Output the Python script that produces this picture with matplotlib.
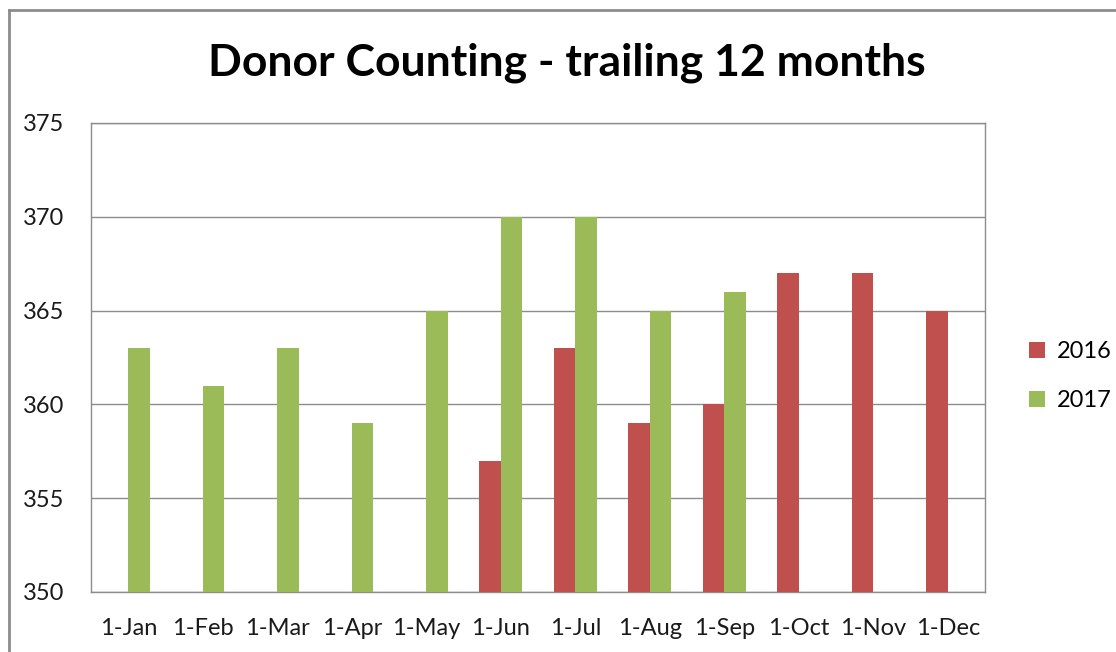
import numpy as np
import matplotlib.pyplot as plt
from matplotlib.lines import Line2D

# data
months = ["1-Jan", "1-Feb", "1-Mar", "1-Apr", "1-May", "1-Jun",
          "1-Jul", "1-Aug", "1-Sep", "1-Oct", "1-Nov", "1-Dec"]
donors_2016 = [np.nan, np.nan, np.nan, np.nan, np.nan, 357,
               363, 359, 360, 367, 367, 365]
donors_2017 = [363, 361, 363, 359, 365, 370,
               370, 365, 366, np.nan, np.nan, np.nan]

plt.rcParams["font.family"] = ["Lato", "DejaVu Sans"]

W, H = 1116, 652
fig = plt.figure(figsize=(W / 100, H / 100), dpi=100)

# chart area border (cropped on right and bottom)
fig.add_artist(Line2D([9 / W, 1], [1 - 10 / H, 1 - 10 / H], color="#8c8c8c", lw=2))
fig.add_artist(Line2D([9 / W, 9 / W], [0, 1 - 10 / H], color="#8c8c8c", lw=2))

ax = fig.add_axes([91 / W, (H - 592) / H, 894 / W, 469 / H])

x = np.arange(len(months))
bw = 1 / 3.5
base = 350
ax.bar(x - bw / 2, np.array(donors_2016) - base, bw, bottom=base,
       color="#C0504D", label="2016", zorder=3)
ax.bar(x + bw / 2, np.array(donors_2017) - base, bw, bottom=base,
       color="#9BBB59", label="2017", zorder=3)

ax.set_xlim(-0.5, 11.5)
ax.set_ylim(350, 375)
ax.set_yticks(np.arange(350, 376, 5))
ax.set_xticks(x)
ax.set_xticklabels(months)
ax.tick_params(axis="both", length=0, labelsize=17, colors="#1a1a1a")
ax.tick_params(axis="y", pad=19)
ax.tick_params(axis="x", pad=19)
ax.grid(axis="y", color="#8c8c8c", lw=1, zorder=0)
for s in ax.spines.values():
    s.set_color("#8c8c8c")
    s.set_linewidth(1)

fig.text(567 / W, 1 - 63 / H, "Donor Counting - trailing 12 months",
         ha="center", va="center", fontsize=32, fontweight="bold")

ax.legend(loc="center left", bbox_to_anchor=(1.025, 0.46), frameon=False,
          fontsize=17, handlelength=0.7, handleheight=0.7,
          handletextpad=0.5, labelspacing=1.2)

fig.savefig("out.png", dpi=100)
